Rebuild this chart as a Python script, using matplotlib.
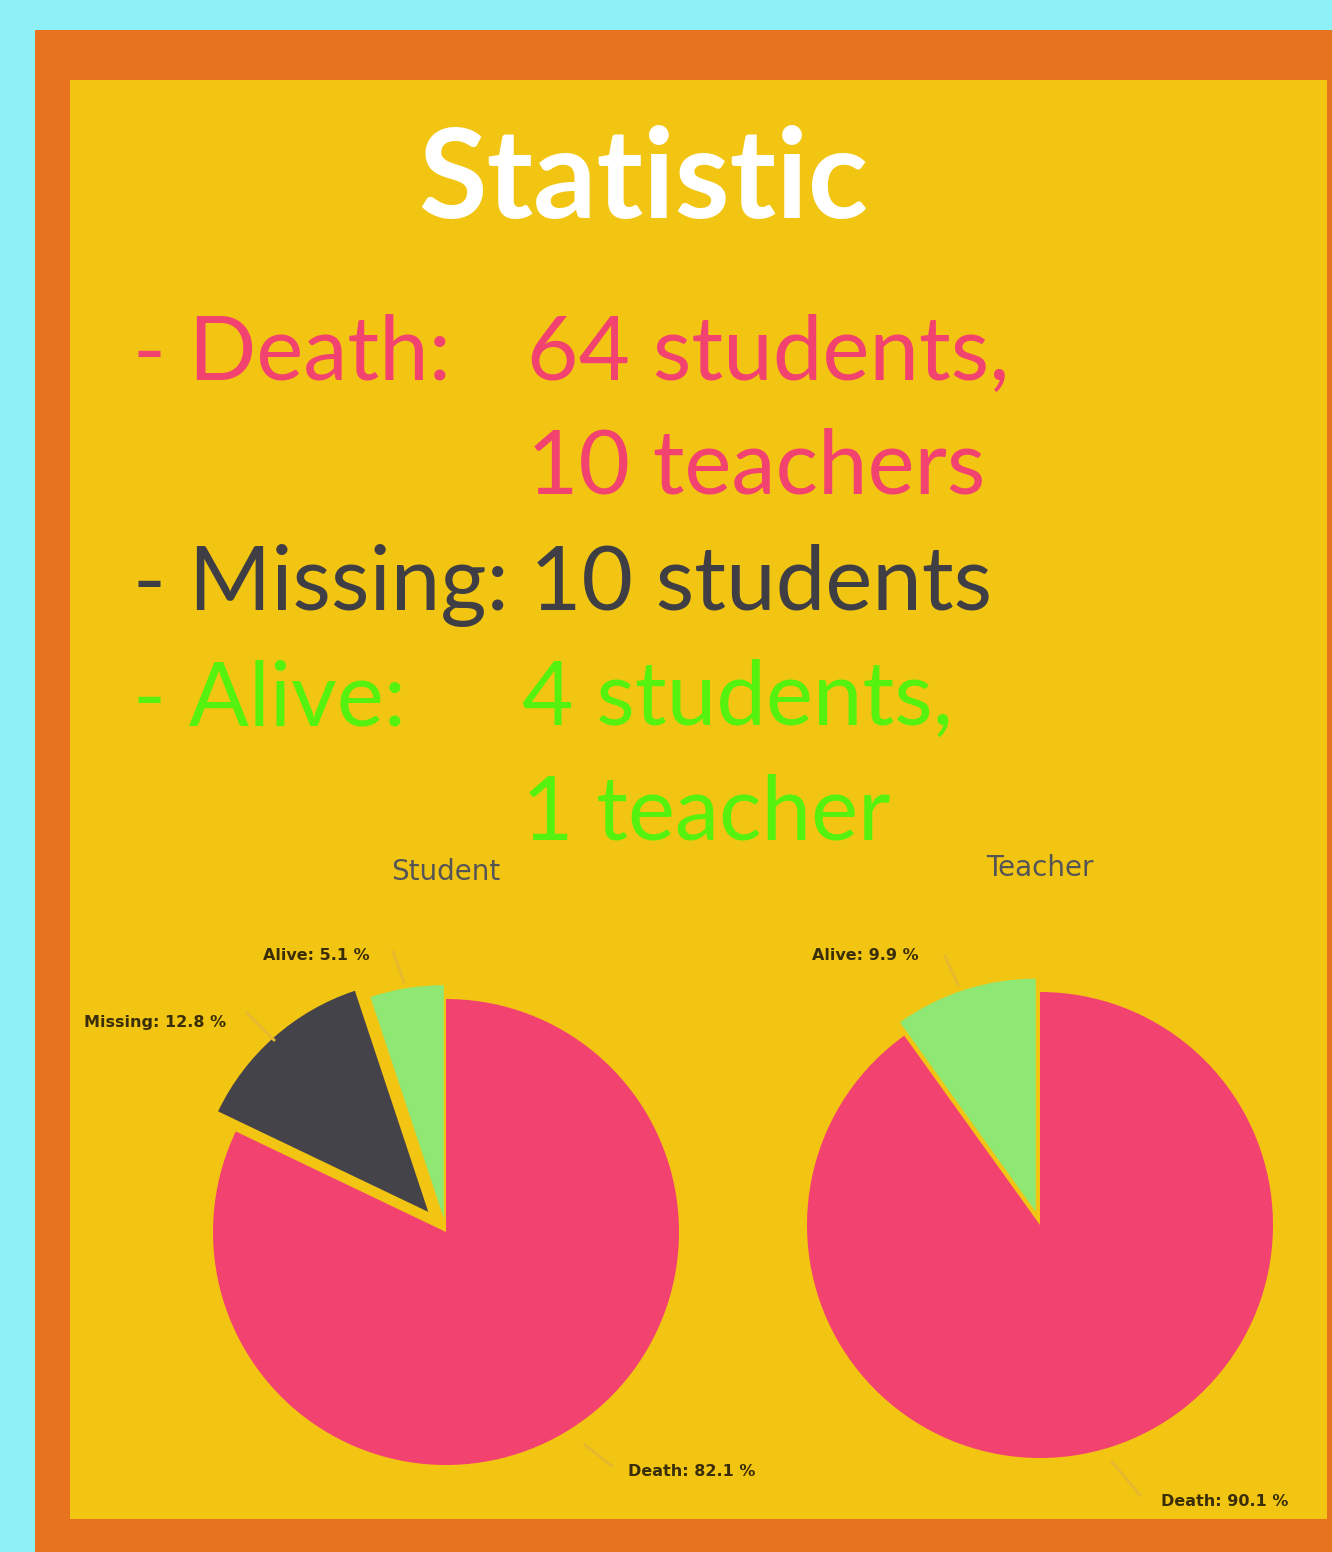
import matplotlib
matplotlib.use("Agg")
import matplotlib.pyplot as plt
from matplotlib.patches import Rectangle

W, H = 1332, 1552

# ---- data ----
title = "Statistic"
stat_labels = ["- Death:", "- Missing:", "- Alive:"]
stat_lines = [["64 students,", "10 teachers"], ["10 students"], ["4 students,", "1 teacher"]]

pie_categories = ["Death", "Missing", "Alive"]
student_pct = [82.1, 12.8, 5.1]
teacher_categories = ["Death", "Alive"]
teacher_pct = [90.1, 9.9]
pie_titles = ["Student", "Teacher"]

# ---- colours ----
C_BG = "#8EF1F7"
C_ORANGE = "#E8731E"
C_YELLOW = "#F2C513"
C_PINK = "#F2426F"
C_DARK = "#3F3E45"
C_GREEN = "#55F20F"
C_LGREEN = "#8EE873"
C_MISS = "#45434A"
slice_colors = {"Death": C_PINK, "Missing": C_MISS, "Alive": C_LGREEN}
text_colors = [C_PINK, C_DARK, C_GREEN]

FONT = "Lato"

fig = plt.figure(figsize=(W / 100, H / 100), dpi=100)
fig.patch.set_facecolor(C_BG)
ax = fig.add_axes([0, 0, 1, 1])


def Y(y):
    return H - y


ax.add_patch(Rectangle((35, 0), W - 35, Y(30), facecolor=C_ORANGE, edgecolor="none", zorder=0))
ax.add_patch(Rectangle((70, Y(1519)), 1327 - 70, 1519 - 80, facecolor=C_YELLOW, edgecolor="none", zorder=0.5))

# title
ax.text(643, Y(218), title, color="white", fontsize=90, fontweight="bold",
        family=FONT, ha="center", va="baseline")

# statistics text
FS = 64
base_y = [380, 610, 725]
label_x = 133
val_x = [527, 530, 522]
line_h = 114
for lab, lines, col, by, vx in zip(stat_labels, stat_lines, text_colors, base_y, val_x):
    ax.text(label_x, Y(by), lab, color=col, fontsize=FS, family=FONT, ha="left", va="baseline")
    for i, ln in enumerate(lines):
        ax.text(vx, Y(by + i * line_h), ln, color=col, fontsize=FS, family=FONT,
                ha="left", va="baseline")

# pies
pies = [
    dict(cats=pie_categories, vals=student_pct, center=(446, Y(1232)), r=233,
         explode=[0, 0.115, 0.06], title_xy=(446, 872)),
    dict(cats=teacher_categories, vals=teacher_pct, center=(1040, Y(1225)), r=233,
         explode=[0, 0.06], title_xy=(1040, 868)),
]
for p, ttl in zip(pies, pie_titles):
    ax.pie(p["vals"], colors=[slice_colors[c] for c in p["cats"]], startangle=90,
           counterclock=False, center=p["center"], radius=p["r"],
           explode=[e * p["r"] for e in p["explode"]],
           wedgeprops=dict(edgecolor="none"), frame=True)
    ax.text(p["title_xy"][0], Y(p["title_xy"][1]), ttl, color="#555555", fontsize=20,
            family="DejaVu Sans", ha="center", va="center")

# slice labels (text positions and leader lines)
label_specs = [
    (f"Alive: {student_pct[2]} %", (316, 956), [(393, 952), (404, 982)]),
    (f"Missing: {student_pct[1]} %", (155, 1022), [(247, 1013), (274, 1040)]),
    (f"Death: {student_pct[0]} %", (692, 1472), [(585, 1445), (612, 1466)]),
    (f"Alive: {teacher_pct[1]} %", (865, 956), [(945, 956), (958, 985)]),
    (f"Death: {teacher_pct[0]} %", (1225, 1502), [(1112, 1462), (1140, 1495)]),
]
for txt, (tx, ty), pts in label_specs:
    ax.text(tx, Y(ty), txt, color="#3a2e08", fontsize=11.5, fontweight="bold",
            family="DejaVu Sans", ha="center", va="center")
    ax.plot([pts[0][0], pts[1][0]], [Y(pts[0][1]), Y(pts[1][1])], color="#e6b830",
            lw=2, zorder=1)

ax.set_xlim(0, W)
ax.set_ylim(0, H)
ax.set_aspect("auto")
ax.axis("off")

fig.savefig("out.png", dpi=100, facecolor=C_BG)
